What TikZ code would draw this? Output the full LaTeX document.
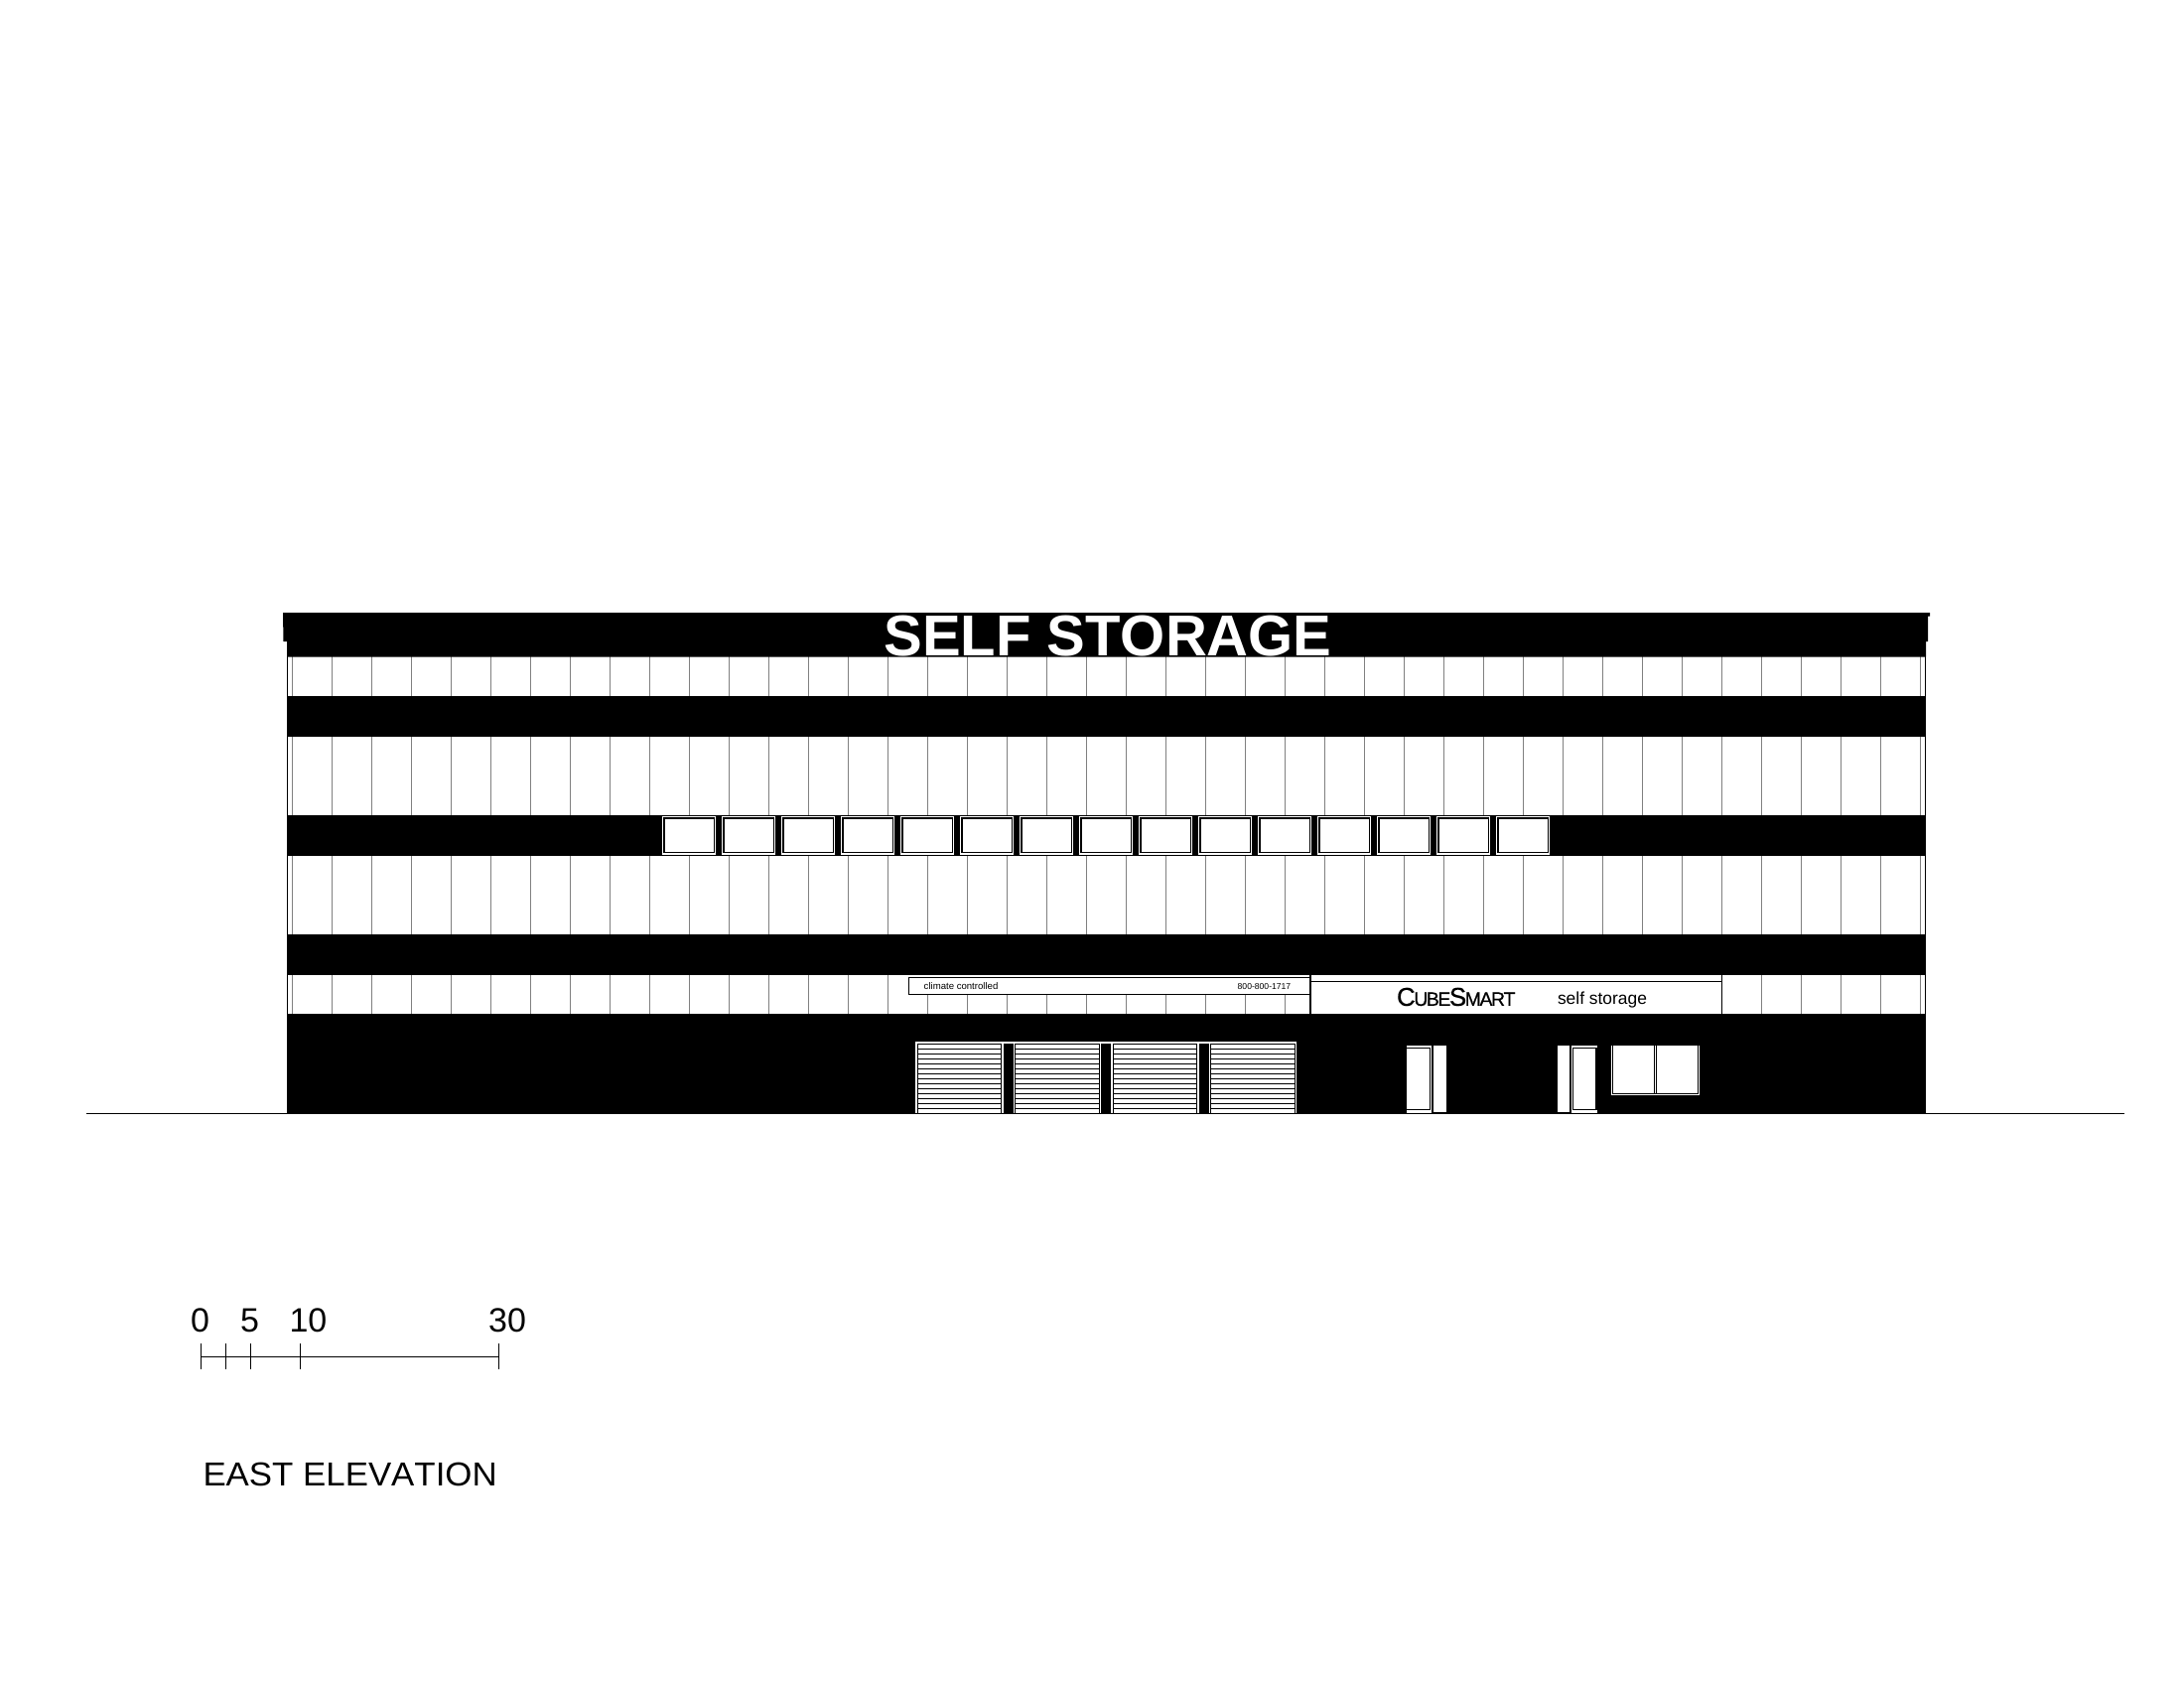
\documentclass[tikz,border=0pt]{standalone}
\usepackage{fontspec}
\setmainfont[Kerning=Off]{Liberation Sans}
\tikzset{
  lbl/.style={inner sep=0pt,outer sep=0pt,anchor=base west,text=black},
  panel/.style={draw=black!50,line width=1pt},
  hair/.style={draw=black,line width=1.2pt},
  solid black/.style={fill=black,draw=none},
  solid white/.style={fill=white,draw=none}
}
\begin{document}
\begin{tikzpicture}[x=1pt,y=-1pt]
\useasboundingbox (0,0) rectangle (2200,1700);
\fill[white] (0,0) rectangle (2200,1700);
% panel joints
\foreach \k in {0,...,41}{
  \draw[panel] ({294.5+40*\k},661) -- ({294.5+40*\k},1021);
}
% walls
\draw[black,line width=1.2pt] (289.6,646) -- (289.6,1021);
\draw[black,line width=1.4pt] (1939.6,646) -- (1939.6,1021);
% parapet and sign band
\fill[black] (285,617) -- (1944,617) -- (1944,620.7) -- (1942,620.7) -- (1942,646) -- (1940.2,646)
  -- (1940.2,661.7) -- (289,661.7) -- (289,646) -- (285.5,646) -- cycle;
% floor bands
\path[solid black] (289,701) rectangle (1940.2,741.7);
\path[solid black] (289,821) rectangle (1940.2,861.7);
\path[solid black] (289,941) rectangle (1940.2,982);
\path[solid black] (289,1021) rectangle (1940.2,1121.7);
% windows
\foreach \k in {0,...,14}{
  \path[solid white] ({667+60*\k},821.7) rectangle ({721+60*\k},860.7);
  \draw[hair] ({669+60*\k},824) rectangle ({719.5+60*\k},858.7);
}
% signs
\path[solid white] (915,982) rectangle (1320,1001.7);
\draw[hair] (915.3,984.3) rectangle (1320,1001.7);
\path[solid white] (1320,982) rectangle (1734.3,1021);
\draw[hair] (1320,982) -- (1320,1021);
\draw[hair] (1320,988.3) -- (1734.3,988.3);
\draw[hair] (1734.3,982) -- (1734.3,1021);
% garage doors
\path[solid white] (922,1049) rectangle (1306,1121.7);
\path[solid black] (1011,1051) rectangle (1021,1121);
\path[solid black] (1109,1051) rectangle (1119,1121);
\path[solid black] (1208,1051) rectangle (1218,1121);
\foreach \a/\b in {924.3/1008.7,1022.3/1107.7,1121.3/1205.7,1219.3/1304.7}{
  \draw[hair] (\a,1051.3) -- (\a,1121.3);
  \draw[hair] (\b,1051.3) -- (\b,1121.3);
  \foreach \j in {0,...,14}{
    \draw[hair] (\a,{1051.3+5*\j}) -- (\b,{1051.3+5*\j});
  }
}
% personnel doors
\path[solid white] (1417,1052.7) rectangle (1442.3,1121);
\draw[hair] (1417,1055.3) -- (1440.3,1055.3) -- (1440.3,1117.3) -- (1417,1117.3);
\path[solid white] (1444,1052.7) rectangle (1457,1120);
\path[solid white] (1569,1052.7) rectangle (1581.4,1120);
\path[solid white] (1582.8,1052.7) rectangle (1609.3,1121);
\draw[hair] (1584.7,1055.3) rectangle (1608,1117.3);
% storefront window
\path[solid white] (1623,1052.7) rectangle (1712,1102.7);
\draw[hair] (1624.7,1052.7) -- (1624.7,1101.3) -- (1710.7,1101.3) -- (1710.7,1052.7);
\draw[hair] (1666.8,1052.7) -- (1666.8,1101.3);
\draw[hair] (1668.8,1052.7) -- (1668.8,1101.3);
% ground
\draw[black,line width=1.3pt] (87,1121.3) -- (2139.6,1121.3);
% texts
\node[lbl,text=white,font=\bfseries\fontsize{58}{58}\selectfont] (roofsign) at (890.5,660) {SELF STORAGE};
\node[lbl,font=\fontsize{9.6}{10}\selectfont] (climate) at (930.7,996.3) {climate controlled};
\node[lbl,font=\fontsize{8.6}{10}\selectfont] (phone) at (1246.7,996.3) {800-800-1717};
\node[lbl,font=\addfontfeature{FakeBold=0.4}\fontsize{19.5}{20}\selectfont] (brand) at (1407,1012.9)
  {{\fontsize{26}{26}\selectfont C}\kern-1.5pt U\kern-1.5pt B\kern-1.5pt E\kern-1.5pt{\fontsize{26}{26}\selectfont S}\kern-1.5pt M\kern-1.5pt A\kern-1.5pt R\kern-1.5pt T};
\node[lbl,font=\fontsize{17.4}{18}\selectfont] (selfst) at (1569,1011) {self storage};
% scale bar
\coordinate (s0) at (202.3,1366.3);
\coordinate (s30) at (502.3,1366.3);
\draw[hair] (s0) -- (s30);
\foreach \x in {202.3,227.3,252.3,302.3,502.3}{
  \draw[hair] (\x,1353) -- (\x,1378.7);
}
\node[lbl,anchor=base,font=\fontsize{34}{34}\selectfont] (n0) at (201.7,1341.5) {0};
\node[lbl,anchor=base,font=\fontsize{34}{34}\selectfont] (n5) at (251.7,1341.5) {5};
\node[lbl,anchor=base,font=\fontsize{34}{34}\selectfont] (n10) at (310.5,1341.5) {10};
\node[lbl,anchor=base,font=\fontsize{34}{34}\selectfont] (n30) at (511,1341.5) {30};
\node[lbl,font=\addfontfeature{FakeStretch=1.04}\fontsize{33.5}{34}\selectfont] (title) at (204.5,1496) {EAST ELEVATION};
\end{tikzpicture}
\end{document}
